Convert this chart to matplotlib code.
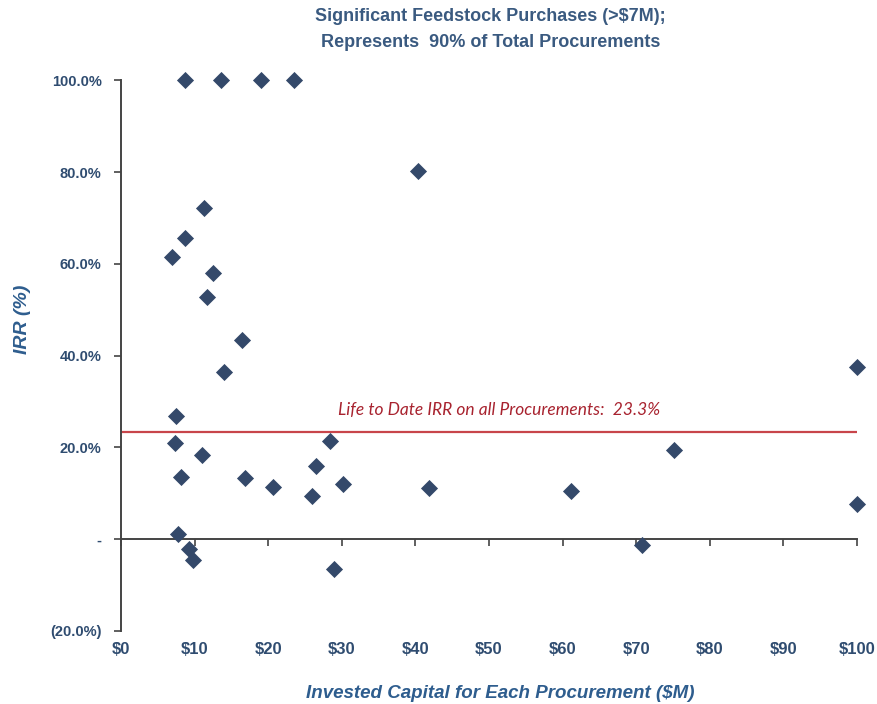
import matplotlib.pyplot as plt
from matplotlib.font_manager import fontManager

# invested capital ($M) and IRR (%) for each procurement
capital = [8.7, 13.6, 19.0, 23.5,
           11.3, 8.7, 6.9, 12.5, 11.7, 16.5, 40.4,
           14.0, 7.5, 7.4, 11.0, 8.1, 7.7, 9.2, 9.8,
           16.8, 20.6, 25.9, 26.5, 28.4, 30.1, 29.0, 41.9,
           100.0, 75.1, 61.1, 70.8, 100.0]
irr = [100.0, 100.0, 100.0, 100.0,
       72.1, 65.6, 61.4, 57.9, 52.7, 43.3, 80.3,
       36.3, 26.7, 20.9, 18.3, 13.4, 1.0, -2.3, -4.6,
       13.2, 11.4, 9.4, 16.0, 21.4, 11.9, -6.5, 11.2,
       37.4, 19.3, 10.5, -1.3, 7.6]

life_to_date_irr = 23.3

x_ticks = [0, 10, 20, 30, 40, 50, 60, 70, 80, 90, 100]
x_labels = ["$0", "$10", "$20", "$30", "$40", "$50", "$60", "$70", "$80", "$90", "$100"]
y_ticks = [-20, 0, 20, 40, 60, 80, 100]
y_labels = ["(20.0%)", "-", "20.0%", "40.0%", "60.0%", "80.0%", "100.0%"]

names = {f.name for f in fontManager.ttflist}
narrow = "Liberation Sans Narrow" if "Liberation Sans Narrow" in names else "Liberation Sans"

NAVY = "#34496a"
LABEL = "#2f4c70"
AXIS_TITLE = "#2e5d8e"

fig = plt.figure(figsize=(8.77, 7.04), dpi=100)
ax = fig.add_axes([0.138, 0.1043, 0.839, 0.7814])

ax.scatter(capital, irr, marker="D", s=76, color=NAVY, zorder=3, clip_on=False,
           linewidths=0)

ax.axhline(life_to_date_irr, color="#c8454a", lw=1.6, zorder=2)
ax.text(29.5, 28.1, f"Life to Date IRR on all Procurements:  {life_to_date_irr}%",
        color="#a8232f", style="italic", fontsize=12.5, family="Lato",
        va="center", ha="left")

ax.set_xlim(0, 100)
ax.set_ylim(-20, 100)

for side in ("top", "right"):
    ax.spines[side].set_visible(False)
ax.spines["bottom"].set_position(("data", 0))
ax.spines["left"].set_bounds(-20, 100)
for side in ("bottom", "left"):
    ax.spines[side].set_color("#444444")
    ax.spines[side].set_linewidth(1.4)

ax.set_xticks(x_ticks)
ax.set_xticklabels(x_labels)
ax.set_yticks(y_ticks)
ax.set_yticklabels(y_labels)
ax.tick_params(axis="both", direction="out", length=5, width=1.2, color="#444444")
ax.tick_params(axis="x", pad=69)
ax.tick_params(axis="y", pad=9)
for lbl in ax.get_yticklabels():
    lbl.set_fontsize(10.5)
for lbl in ax.get_xticklabels():
    lbl.set_fontsize(12)
for lbl in ax.get_xticklabels() + ax.get_yticklabels():
    lbl.set_fontfamily(narrow)
    lbl.set_fontweight("bold")
    lbl.set_color(LABEL)

ax.set_xlabel("Invested Capital for Each Procurement ($M)", family=narrow,
              style="italic", weight="bold", fontsize=13.5, color=AXIS_TITLE,
              va="center")
ax.xaxis.set_label_coords(0.516, -0.115)
ax.set_ylabel("IRR (%)", family=narrow, style="italic", weight="bold",
              fontsize=14, color=AXIS_TITLE, va="center")
ax.yaxis.set_label_coords(-0.1345, 0.565)

fig.text(0.559, 0.958, "Significant Feedstock Purchases (>$7M);\nRepresents  90% of Total Procurements",
         ha="center", va="center", family=narrow, weight="bold", fontsize=13,
         color="#3a5a80", linespacing=1.75)

fig.savefig("out.png", dpi=100)
